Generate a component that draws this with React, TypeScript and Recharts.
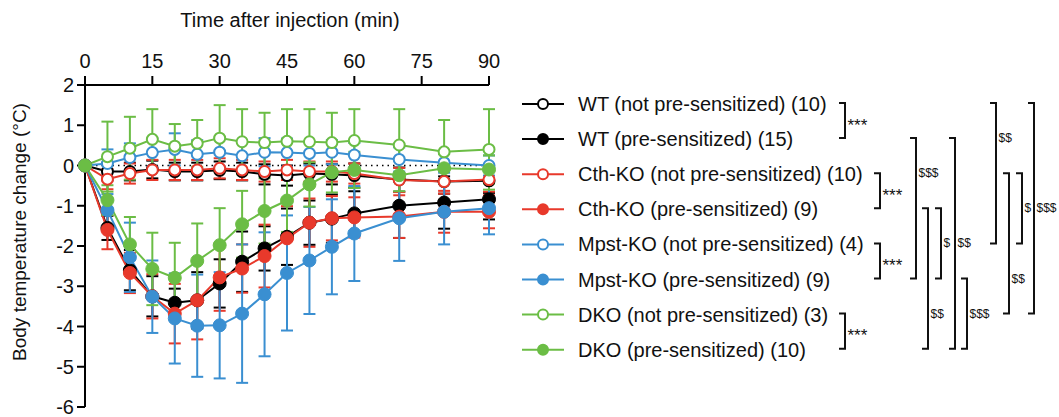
import { LineChart, Line, XAxis, YAxis, ErrorBar, ReferenceLine, Legend } from "recharts";

const FONT = '"Liberation Sans", Arial, sans-serif';

const BLACK = "#000000";
const RED = "#e8392b";
const BLUE = "#3a8fd1";
const GREEN = "#6bbd45";

// minutes after injection
const times = [0, 5, 10, 15, 20, 25, 30, 35, 40, 45, 50, 55, 60, 70, 80, 90];
const xTicks = [0, 15, 30, 45, 60, 75, 90];
const yTicks = [-6, -5, -4, -3, -2, -1, 0, 1, 2];

// mean body temperature change (°C) and error bar half-lengths
const wtNot = [0, -0.15, -0.15, -0.1, -0.15, -0.15, -0.12, -0.15, -0.22, -0.25, -0.2, -0.22, -0.25, -0.35, -0.4, -0.38];
const wtNotErr = [0, 0.22, 0.22, 0.22, 0.22, 0.22, 0.22, 0.22, 0.25, 0.25, 0.25, 0.25, 0.3, 0.3, 0.3, 0.3];
const wtPre = [0, -1.55, -2.6, -3.25, -3.41, -3.35, -2.93, -2.39, -2.06, -1.77, -1.42, -1.32, -1.19, -1.0, -0.92, -0.84];
const wtPreErr = [0, 0.3, 0.5, 0.5, 0.35, 0.7, 0.6, 0.75, 0.55, 0.7, 0.55, 0.6, 0.55, 0.8, 0.65, 0.5];
const cthNot = [0, -0.34, -0.2, -0.11, -0.11, -0.11, -0.07, -0.11, -0.15, -0.11, -0.15, -0.15, -0.2, -0.36, -0.4, -0.35];
const cthNotErr = [0, 0.25, 0.25, 0.25, 0.25, 0.25, 0.25, 0.25, 0.25, 0.25, 0.25, 0.25, 0.25, 0.3, 0.3, 0.3];
const cthPre = [0, -1.6, -2.67, -3.25, -3.68, -3.35, -2.78, -2.56, -2.25, -1.81, -1.42, -1.31, -1.29, -1.27, -1.15, -1.15];
const cthPreErr = [0, 0.48, 0.5, 0.55, 0.74, 0.97, 0.83, 0.6, 0.78, 0.8, 0.6, 0.55, 0.5, 0.53, 0.52, 0.41];
const mpstNot = [0, 0.05, 0.2, 0.32, 0.4, 0.28, 0.33, 0.24, 0.33, 0.32, 0.3, 0.33, 0.26, 0.15, 0.07, 0.0];
const mpstNotErr = [0, 0.35, 0.35, 0.35, 0.4, 0.35, 0.35, 0.35, 0.35, 0.35, 0.3, 0.3, 0.3, 0.3, 0.25, 0.25];
const mpstPre = [0, -1.11, -2.28, -3.26, -3.8, -3.98, -3.97, -3.68, -3.2, -2.67, -2.36, -2.02, -1.69, -1.31, -1.15, -1.06];
const mpstPreErr = [0, 0.4, 0.86, 0.9, 1.12, 1.27, 1.32, 1.72, 1.54, 1.43, 1.33, 1.18, 1.18, 1.06, 0.81, 0.65];
const dkoNot = [0, 0.22, 0.43, 0.65, 0.48, 0.55, 0.68, 0.59, 0.57, 0.6, 0.59, 0.57, 0.62, 0.51, 0.34, 0.4];
const dkoNotErr = [0, 0.87, 0.78, 0.75, 0.55, 0.58, 0.82, 0.81, 0.74, 0.8, 0.81, 0.74, 0.78, 0.89, 0.79, 1.0];
const dkoPre = [0, -0.86, -1.96, -2.57, -2.79, -2.37, -1.98, -1.46, -1.13, -0.87, -0.47, -0.17, -0.11, -0.24, -0.07, -0.1];
const dkoPreErr = [0, 0.37, 0.68, 0.9, 0.87, 0.93, 0.92, 0.83, 0.81, 0.78, 0.55, 0.5, 0.45, 0.4, 0.35, 0.35];

const SERIES = [
  { key: "wtNot", name: "WT (not pre-sensitized) (10)", color: BLACK, open: true, values: wtNot, errors: wtNotErr },
  { key: "wtPre", name: "WT (pre-sensitized) (15)", color: BLACK, open: false, values: wtPre, errors: wtPreErr },
  { key: "cthNot", name: "Cth-KO (not pre-sensitized) (10)", color: RED, open: true, values: cthNot, errors: cthNotErr },
  { key: "cthPre", name: "Cth-KO (pre-sensitized) (9)", color: RED, open: false, values: cthPre, errors: cthPreErr },
  { key: "mpstNot", name: "Mpst-KO (not pre-sensitized) (4)", color: BLUE, open: true, values: mpstNot, errors: mpstNotErr },
  { key: "mpstPre", name: "Mpst-KO (pre-sensitized) (9)", color: BLUE, open: false, values: mpstPre, errors: mpstPreErr },
  { key: "dkoNot", name: "DKO (not pre-sensitized) (3)", color: GREEN, open: true, values: dkoNot, errors: dkoNotErr },
  { key: "dkoPre", name: "DKO (pre-sensitized) (10)", color: GREEN, open: false, values: dkoPre, errors: dkoPreErr },
];

// significance brackets between legend rows (labelAt = row where the label sits)
const brackets = [
  { from: 0, to: 1, label: "***" },
  { from: 2, to: 3, label: "***" },
  { from: 4, to: 5, label: "***" },
  { from: 6, to: 7, label: "***" },
  { from: 1, to: 5, label: "$$$", labelAt: 2 },
  { from: 3, to: 7, label: "$$", labelAt: 6 },
  { from: 3, to: 5, label: "$" },
  { from: 1, to: 7, label: "$$" },
  { from: 5, to: 7, label: "$$$" },
  { from: 0, to: 4, label: "$$", labelAt: 1 },
  { from: 2, to: 6, label: "$$", labelAt: 5 },
  { from: 2, to: 4, label: "$" },
  { from: 0, to: 6, label: "$$$" },
];
const bracketX = [845, 880, 880, 845, 916, 928, 941, 955, 967, 996, 1009, 1022, 1034];

const data = times.map((t, i) => {
  const row: Record<string, number> = { t };
  SERIES.forEach((s) => {
    row[s.key] = s.values[i];
    row[s.key + "Err"] = s.errors[i];
  });
  return row;
});

const LEGEND_LEFT = 510;
const rowY = (r: number) => 104 + 35.1 * r;

function LegendBlock() {
  const ox = LEGEND_LEFT;
  return (
    <svg width={1059 - ox} height={417} style={{ display: "block", overflow: "visible" }}>
      {SERIES.map((s, i) => {
        const y = rowY(i);
        return (
          <g key={s.key}>
            <line x1={522 - ox} x2={564 - ox} y1={y} y2={y} stroke={s.color} strokeWidth={2} />
            <circle
              cx={543 - ox}
              cy={y}
              r={5}
              fill={s.open ? "#fff" : s.color}
              stroke={s.color}
              strokeWidth={2}
            />
            <text x={578 - ox} y={y} dominantBaseline="central" fontSize={20} fontFamily={FONT} fill="#111">
              {s.name}
            </text>
          </g>
        );
      })}
      {brackets.map((b, i) => {
        const x = bracketX[i] - ox;
        const y1 = rowY(b.from) - 1;
        const y2 = rowY(b.to) - 1;
        const ly = b.labelAt !== undefined ? rowY(b.labelAt) - 1 : (y1 + y2) / 2;
        const stars = b.label.startsWith("*");
        return (
          <g key={i}>
            <path d={`M${x - 6},${y1} H${x} V${y2} H${x - 6}`} fill="none" stroke="#111" strokeWidth={2} />
            <text
              x={x + 2.5}
              y={stars ? ly + 10 : ly + 4}
              fontSize={stars ? 17 : 12}
              fontFamily={FONT}
              fill="#111"
            >
              {b.label}
            </text>
          </g>
        );
      })}
    </svg>
  );
}

export default function App() {
  return (
    <div style={{ position: "absolute", left: 0, top: 0, width: 1059, height: 417, background: "#fff" }}>
      <LineChart width={1059} height={417} data={data} margin={{ top: 55, right: 570, bottom: 10, left: 15 }}>
        <XAxis
          dataKey="t"
          type="number"
          orientation="top"
          domain={[0, 90]}
          ticks={xTicks}
          height={30}
          tickSize={9}
          tickMargin={8}
          axisLine={{ stroke: "#000", strokeWidth: 2 }}
          tickLine={{ stroke: "#000", strokeWidth: 2 }}
          tick={{ fill: "#111", fontSize: 20, fontFamily: FONT }}
          label={({ viewBox }: any) => (
            <text
              x={viewBox.x + viewBox.width / 2 + 3}
              y={27}
              textAnchor="middle"
              fontSize={20}
              fontFamily={FONT}
              fill="#111"
            >
              Time after injection (min)
            </text>
          )}
        />
        <YAxis
          type="number"
          domain={[-6, 2]}
          ticks={yTicks}
          width={70}
          tickSize={8}
          tickMargin={3}
          interval={0}
          axisLine={{ stroke: "#000", strokeWidth: 2 }}
          tickLine={{ stroke: "#000", strokeWidth: 2 }}
          tick={{ fill: "#111", fontSize: 20, fontFamily: FONT }}
          label={() => (
            <text
              x={26}
              y={232}
              transform="rotate(-90 26 232)"
              textAnchor="middle"
              fontSize={19}
              fontFamily={FONT}
              fill="#111"
            >
              Body temperature change (°C)
            </text>
          )}
        />
        <ReferenceLine y={0} stroke="#000" strokeWidth={1.5} strokeDasharray="1.5 4" />
        {SERIES.map((s) => (
          <Line
            key={s.key}
            dataKey={s.key}
            name={s.name}
            type="linear"
            stroke={s.color}
            strokeWidth={2}
            isAnimationActive={false}
            dot={
              s.open
                ? { r: 5.5, fill: "#fff", stroke: s.color, strokeWidth: 2 }
                : { r: 6.5, fill: s.color, stroke: s.color, strokeWidth: 1 }
            }
            activeDot={false}
          >
            <ErrorBar dataKey={s.key + "Err"} direction="y" width={6} stroke={s.color} strokeWidth={2} />
          </Line>
        ))}
        <Legend
          layout="vertical"
          align="center"
          verticalAlign="middle"
          wrapperStyle={{ left: LEGEND_LEFT, top: 0, width: 1059 - LEGEND_LEFT, height: 417 }}
          content={() => <LegendBlock />}
        />
      </LineChart>
    </div>
  );
}
